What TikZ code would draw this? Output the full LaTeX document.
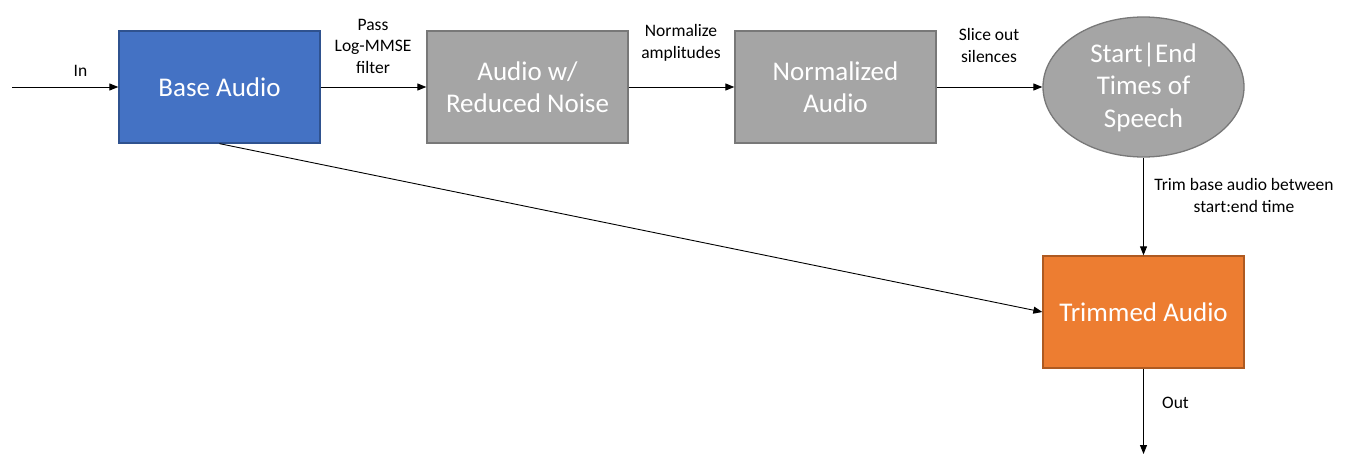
\documentclass[tikz,border=0pt]{standalone}
\usepackage{fontspec}
\setmainfont{Carlito}
\usetikzlibrary{shapes.geometric,arrows.meta}
\definecolor{bluefill}{HTML}{4472C4}
\definecolor{blueline}{HTML}{2F528F}
\definecolor{grayfill}{HTML}{A5A5A5}
\definecolor{grayline}{HTML}{787878}
\definecolor{orangefill}{HTML}{ED7D31}
\definecolor{orangeline}{HTML}{AE5A21}
\begin{document}
\begin{tikzpicture}[x=1pt,y=-1pt,
  box/.style={draw, line width=1.3pt, minimum width=201pt, minimum height=112pt, inner sep=0pt,
    text=white, font=\fontsize{27}{32}\selectfont, align=center},
  bluebox/.style={box, fill=bluefill, draw=blueline},
  graybox/.style={box, fill=grayfill, draw=grayline},
  orangebox/.style={box, fill=orangefill, draw=orangeline},
  grayell/.style={ellipse, draw=grayline, fill=grayfill, line width=1.3pt, minimum width=201pt,
    minimum height=140pt, inner sep=0pt, text=white, font=\fontsize{27}{32.5}\selectfont, align=center},
  lbl/.style={font=\fontsize{17.5}{21.5}\selectfont, align=center, inner sep=0pt},
  conn/.style={draw=black, line width=0.9pt, -{Triangle[length=9pt,width=7pt]}}]
\useasboundingbox (0,0) rectangle (1349,460);
\node[bluebox] (base) at (219.5,87) {Base Audio};
\node[graybox] (reduced) at (527.5,87) {Audio w/\\Reduced Noise};
\node[graybox] (norm) at (835.5,87) {Normalized\\Audio};
\node[grayell] (times) at (1143.5,87) {Start|End\\Times of\\Speech};
\node[orangebox] (trim) at (1143.5,312) {Trimmed Audio};
\coordinate (inpt) at (12,87);
\coordinate (outpt) at (1143.5,454);
\draw[conn] (inpt) -- (base.west);
\draw[conn] (base.east) -- (reduced.west);
\draw[conn] (reduced.east) -- (norm.west);
\draw[conn] (norm.east) -- (times.west);
\draw[conn] (times.south) -- (trim.north);
\draw[conn] (base.south) -- (trim.west);
\draw[conn] (trim.south) -- (outpt);
\node[lbl] (lin) at (80.5,71) {In};
\node[lbl] (lpass) at (373,46) {Pass\\Log-MMSE\\filter};
\node[lbl] (lnorm) at (681,43) {Normalize\\amplitudes};
\node[lbl] (lslice) at (989,45.5) {Slice out\\silences};
\node[lbl] (ltrim) at (1244,195.5) {Trim base audio between\\start:end time};
\node[lbl] (lout) at (1175.5,403) {Out};
\end{tikzpicture}
\end{document}
